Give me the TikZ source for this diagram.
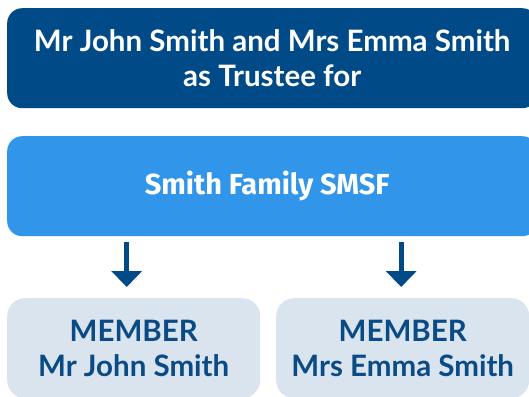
\documentclass[tikz,border=0pt]{standalone}
\usepackage{fontspec}
\usetikzlibrary{arrows.meta}
\newfontfamily\ral{Lato}
\newfontfamily\fira{Fira Sans}
\definecolor{darkblue}{HTML}{004B87}
\definecolor{midblue}{HTML}{3196E9}
\definecolor{paleblue}{HTML}{DAE4EE}
\definecolor{textblue}{HTML}{0A4A85}
\tikzset{
  bigbox/.style={rounded corners=15pt, minimum width=530pt, minimum height=100pt, anchor=north west, inner sep=0pt, align=center},
  memberbox/.style={rounded corners=18pt, fill=paleblue, minimum width=253pt, minimum height=100pt, anchor=north west, inner sep=0pt, align=center, text=textblue, font=\ral\bfseries\fontsize{29.5}{35}\selectfont},
  arr/.style={draw=darkblue, line width=5pt, -{Triangle[width=30pt,length=16pt]}}
}
\begin{document}
\begin{tikzpicture}[x=1pt,y=-1pt]
\useasboundingbox (0,0) rectangle (529,396);
\clip (0,0) rectangle (529,396);
\node[bigbox, fill=darkblue, text=white, font=\ral\bfseries\fontsize{29.5}{35}\selectfont] (trustee) at (7,8) {Mr John Smith and Mrs Emma Smith\\as Trustee for};
\node[bigbox, fill=midblue, text=white, font=\fira\bfseries\fontsize{29}{35}\selectfont] (smsf) at (7,136) {Smith Family SMSF\hspace*{10pt}};
\node[memberbox] (m1) at (7,298) {MEMBER\\Mr John Smith};
\node[memberbox] (m2) at (276,298) {MEMBER\\Mrs Emma Smith};
\draw[arr, shorten <=6pt, shorten >=11pt] ([xshift=-7pt]m1.north |- smsf.south) -- ([xshift=-7pt]m1.north);
\draw[arr, shorten <=6pt, shorten >=11pt] ([xshift=-1.5pt]m2.north |- smsf.south) -- ([xshift=-1.5pt]m2.north);
\end{tikzpicture}
\end{document}
